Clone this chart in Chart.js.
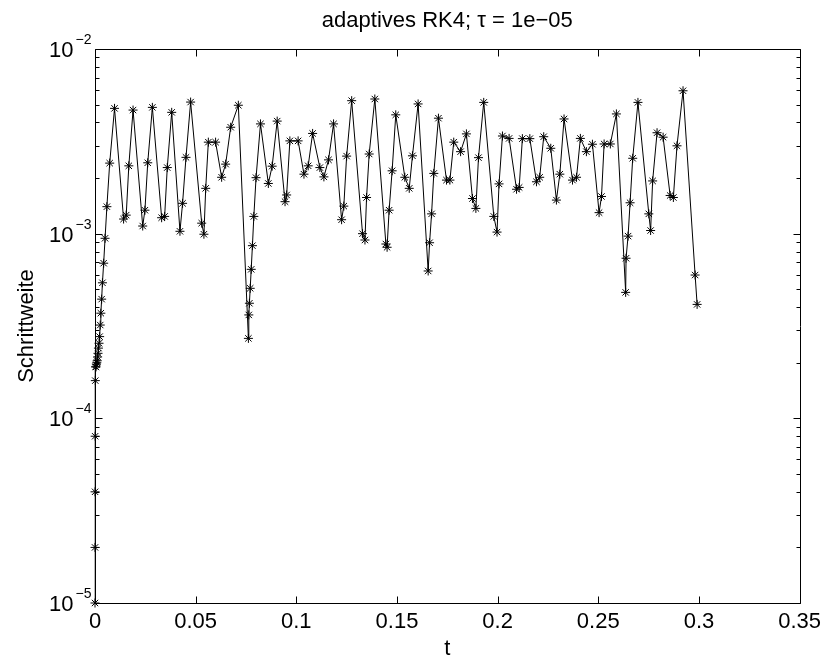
<!DOCTYPE html>
<html>
<head>
<meta charset="utf-8">
<script src="https://cdn.jsdelivr.net/npm/chart.js@4.4.1/dist/chart.umd.min.js"></script>
<style>
    html, body { margin: 0; padding: 0; background: #fff; }
    #wrap { width: 827px; height: 662px; }
</style>
</head>
<body>
<div id="wrap"><canvas id="stepChart" width="827" height="662"></canvas></div>
<script>
// time points t (x axis)
const tValues = [
    0, 0.00001, 0.00003, 0.00007, 0.00015,
    0.00031, 0.0005, 0.0007, 0.0009, 0.0011, 0.0013, 0.0015, 0.0017, 0.002,
    0.0023, 0.0026, 0.0029, 0.0033, 0.0037, 0.0043, 0.005, 0.0059, 0.0073, 0.0097,
    0.0142, 0.0155, 0.0168, 0.0189, 0.0237, 0.0248, 0.0262, 0.0285,
    0.0331, 0.0346, 0.0359, 0.0381, 0.0422, 0.0435, 0.0452, 0.0475,
    0.053, 0.0541, 0.055, 0.0563, 0.0599, 0.0629, 0.0649, 0.0674, 0.0712,
    0.0762, 0.0764, 0.0767, 0.0771, 0.0776, 0.0782, 0.0789, 0.08, 0.0822,
    0.0861, 0.088, 0.0905, 0.0944, 0.0952, 0.0968, 0.1009, 0.1038, 0.1059, 0.1081,
    0.1117, 0.1137, 0.116, 0.1185, 0.1225, 0.1236, 0.125, 0.1275,
    0.1329, 0.1341, 0.1349, 0.1362, 0.139, 0.1445, 0.1451, 0.1461, 0.1476, 0.1494,
    0.1539, 0.1561, 0.1577, 0.1605, 0.1655, 0.1662, 0.1672, 0.1683, 0.1706,
    0.1746, 0.1763, 0.1782, 0.1816, 0.1845, 0.1875, 0.1892, 0.1905, 0.1931,
    0.1981, 0.1997, 0.2007, 0.2024, 0.2057, 0.2094, 0.2107, 0.2123, 0.216,
    0.2193, 0.2209, 0.2229, 0.2264, 0.2292, 0.2309, 0.233, 0.2372, 0.2392, 0.2411,
    0.2441, 0.2471, 0.2504, 0.2516, 0.2529, 0.256, 0.259,
    0.2636, 0.2638, 0.2648, 0.2658, 0.2671, 0.2697, 0.2751, 0.276, 0.277, 0.2792,
    0.2822, 0.2857, 0.2873, 0.2891, 0.2921, 0.2981, 0.2991
];
// Schrittweite h (y axis, log)
const stepSizes = [
    1e-5, 2e-5, 4e-5, 8e-5, 1.6e-4,
    1.9e-4, 1.9e-4, 1.95e-4, 2.0e-4, 2.05e-4, 2.15e-4, 2.25e-4, 2.4e-4, 2.55e-4,
    2.77e-4, 3.2e-4, 3.71e-4, 4.42e-4, 5.42e-4, 6.92e-4, 9.44e-4, 1.40e-3, 2.41e-3, 4.77e-3,
    1.20e-3, 1.26e-3, 2.33e-3, 4.67e-3, 1.10e-3, 1.34e-3, 2.42e-3, 4.83e-3,
    1.22e-3, 1.24e-3, 2.28e-3, 4.54e-3, 1.03e-3, 1.46e-3, 2.59e-3, 5.16e-3,
    1.14e-3, 9.93e-4, 1.76e-3, 3.13e-3, 3.13e-3, 2.02e-3, 2.38e-3, 3.77e-3, 4.96e-3,
    2.71e-4, 3.63e-4, 4.20e-4, 5.06e-4, 6.41e-4, 8.61e-4, 1.24e-3, 2.01e-3, 3.93e-3,
    1.87e-3, 2.32e-3, 4.07e-3, 1.49e-3, 1.62e-3, 3.18e-3, 3.18e-3, 2.10e-3, 2.33e-3, 3.49e-3,
    2.28e-3, 2.03e-3, 2.51e-3, 3.93e-3, 1.19e-3, 1.41e-3, 2.63e-3, 5.25e-3,
    1.00e-3, 9.24e-4, 1.57e-3, 2.70e-3, 5.36e-3, 8.79e-4, 8.44e-4, 1.34e-3, 2.19e-3, 4.40e-3,
    2.02e-3, 1.76e-3, 2.64e-3, 5.04e-3, 6.28e-4, 8.93e-4, 1.28e-3, 2.12e-3, 4.22e-3,
    1.95e-3, 1.95e-3, 3.13e-3, 2.78e-3, 3.47e-3, 1.55e-3, 1.37e-3, 2.58e-3, 5.14e-3,
    1.24e-3, 1.02e-3, 1.86e-3, 3.38e-3, 3.28e-3, 1.74e-3, 1.78e-3, 3.27e-3, 3.27e-3,
    1.91e-3, 2.02e-3, 3.35e-3, 2.90e-3, 1.52e-3, 2.10e-3, 4.18e-3, 1.95e-3, 2.02e-3, 3.28e-3,
    2.78e-3, 3.05e-3, 1.30e-3, 1.59e-3, 3.06e-3, 3.06e-3, 4.45e-3,
    4.81e-4, 7.36e-4, 9.70e-4, 1.47e-3, 2.56e-3, 5.14e-3, 1.28e-3, 1.04e-3, 1.93e-3, 3.52e-3,
    3.33e-3, 1.61e-3, 1.57e-3, 2.99e-3, 5.94e-3, 5.97e-4, 4.14e-4
];
const xTickValues = [0, 0.05, 0.1, 0.15, 0.2, 0.25, 0.3, 0.35];
const xTickLabels = ['0', '0.05', '0.1', '0.15', '0.2', '0.25', '0.3', '0.35'];
const yDecades = [1e-5, 1e-4, 1e-3, 1e-2];
const yExponents = ['\u22125', '\u22124', '\u22123', '\u22122'];

const FONT = 'Liberation Sans, Arial, Helvetica, sans-serif';

// box, inward ticks and 10^n labels like MATLAB
const matlabAxes = {
    id: 'matlabAxes',
    afterDraw(chart) {
        const { ctx, chartArea: a } = chart;
        const x = chart.scales.x;
        const y = chart.scales.y;
        const L = Math.round(a.left) + 0.5;
        const R = Math.round(a.right) + 0.5;
        const T = Math.round(a.top) + 0.5;
        const B = Math.round(a.bottom) + 0.5;

        ctx.save();
        ctx.strokeStyle = '#000';
        ctx.lineWidth = 1;
        ctx.beginPath();
        ctx.rect(L, T, R - L, B - T);

        xTickValues.forEach((v) => {
            const px = Math.round(x.getPixelForValue(v)) + 0.5;
            ctx.moveTo(px, B); ctx.lineTo(px, B - 7);
            ctx.moveTo(px, T); ctx.lineTo(px, T + 7);
        });

        yDecades.forEach((d) => {
            for (let m = 1; m <= 9; m++) {
                const v = d * m;
                if (v > 1.0001e-2) break;
                const py = Math.round(y.getPixelForValue(v)) + 0.5;
                const len = m === 1 ? 7 : 4;
                ctx.moveTo(L, py); ctx.lineTo(L + len, py);
                ctx.moveTo(R, py); ctx.lineTo(R - len, py);
            }
        });
        ctx.stroke();

        ctx.fillStyle = '#000';
        yDecades.forEach((d, i) => {
            const py = y.getPixelForValue(d);
            ctx.font = '14px ' + FONT;
            const expW = ctx.measureText(yExponents[i]).width;
            const right = L - 4;
            ctx.textAlign = 'left';
            ctx.textBaseline = 'alphabetic';
            ctx.fillText(yExponents[i], right - expW, py - 5);
            ctx.font = '22px ' + FONT;
            ctx.textAlign = 'right';
            ctx.fillText('10', right - expW - 2, py + 8);
        });
        ctx.restore();
    }
};

const ctx = document.getElementById('stepChart').getContext('2d');
const points = tValues.map((t, i) => ({ x: t, y: stepSizes[i] }));

new Chart(ctx, {
    type: 'scatter',
    data: {
        datasets: [{
            label: 'Schrittweite',
            data: points,
            showLine: true,
            borderColor: '#000',
            borderWidth: 1,
            pointStyle: 'star',
            pointRadius: 4.5,
            pointBorderColor: '#000',
            pointBorderWidth: 1,
            pointBackgroundColor: 'rgba(0,0,0,0)',
            clip: false,
        }],
    },
    options: {
        responsive: false,
        animation: false,
        devicePixelRatio: 1,
        layout: { padding: { top: 0, right: 27, bottom: 0, left: 0 } },
        plugins: {
            legend: { display: false },
            tooltip: { enabled: false },
            title: {
                display: true,
                fullSize: false,
                text: 'adaptives RK4; \u03c4 = 1e\u221205',
                color: '#000',
                font: { family: FONT, size: 22, weight: 'normal' },
                padding: { top: 8, bottom: 14.6 },
            },
        },
        scales: {
            x: {
                type: 'linear',
                min: 0,
                max: 0.35,
                grid: { display: false, drawTicks: false },
                border: { display: false },
                afterBuildTicks: (s) => {
                    s.ticks = xTickValues.map((v) => ({ value: v }));
                },
                ticks: {
                    autoSkip: false,
                    maxRotation: 0,
                    padding: 6,
                    color: '#000',
                    font: { family: FONT, size: 22 },
                    callback: (v, i) => xTickLabels[i],
                },
                title: {
                    display: true,
                    text: 't',
                    color: '#000',
                    font: { family: FONT, size: 22 },
                    padding: { top: 0, bottom: 0 },
                },
                afterFit: (s) => { s.height = 59; },
            },
            y: {
                type: 'logarithmic',
                min: 1e-5,
                max: 1e-2,
                grid: { display: false, drawTicks: false },
                border: { display: false },
                ticks: { display: false },
                title: {
                    display: true,
                    text: 'Schrittweite',
                    color: '#000',
                    font: { family: FONT, size: 22 },
                    padding: { top: 14, bottom: 0 },
                },
                afterFit: (s) => { s.width = 95; },
            },
        },
    },
    plugins: [matlabAxes],
});
</script>
</body>
</html>
